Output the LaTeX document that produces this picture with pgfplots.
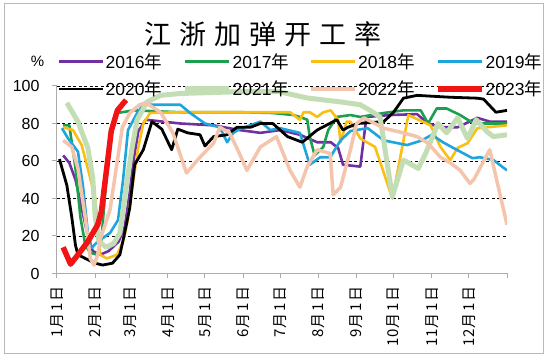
\documentclass[border=0pt]{standalone}
\usepackage{pgfplots}
\pgfplotsset{compat=1.18}
\usepackage{fontspec}
\setmainfont{Liberation Sans}
\newfontfamily\cjk{Noto Sans CJK SC}
\newcommand\nian{{\cjk 年}}
\newcommand\md[2]{#1\hspace{1.5pt}月\hspace{1.5pt}1\hspace{1.5pt}日}
\definecolor{c16}{RGB}{112,48,160}
\definecolor{c17}{RGB}{28,160,80}
\definecolor{c18}{RGB}{250,190,20}
\definecolor{c19}{RGB}{30,165,220}
\definecolor{c20}{RGB}{0,0,0}
\definecolor{c21}{RGB}{195,222,180}
\definecolor{c22}{RGB}{244,196,172}
\definecolor{c23}{RGB}{240,20,20}
\begin{document}
\begin{tikzpicture}[x=1pt,y=1pt]
\useasboundingbox (0,0) rectangle (550,358);
\draw[gray!55, line width=1pt] (4,4) rectangle (543,354);
\node at (263,324) {\cjk\fontsize{27}{30}\selectfont 江\hspace{8pt}浙\hspace{8pt}加\hspace{8pt}弹\hspace{8pt}开\hspace{8pt}工\hspace{8pt}率};
\node at (37.5,297) {\fontsize{15}{18}\selectfont\%};
\begin{axis}[
  at={(57pt,84.5pt)}, anchor=south west, scale only axis,
  width=450pt, height=187.5pt,
  xmin=0, xmax=365, ymin=0, ymax=100,
  axis x line*=bottom, axis y line*=left,
  axis line style={-, gray!65, line width=1pt},
  tick style={gray!65, line width=1pt},
  tick align=outside, major tick length=5pt,
  xtick={0,31,59,90,120,151,181,212,243,273,304,334,365},
  xticklabels={\md{1}{},\md{2}{},\md{3}{},\md{4}{},\md{5}{},\md{6}{},\md{7}{},\md{8}{},\md{9}{},\md{10}{},\md{11}{},\md{12}{},{}},
  xticklabel style={font=\cjk\fontsize{15}{15}\selectfont, rotate=90, anchor=east, inner sep=0pt},
  xticklabel shift=8pt,
  ytick={0,20,40,60,80,100},
  yticklabel style={font=\fontsize{16}{16}\selectfont},
  yticklabel shift=9pt,
  /pgf/number format/assume math mode=true,
  ymajorgrids,
  major grid style={black, dash pattern=on 3pt off 2.5pt, line width=0.8pt},
  every axis plot/.append style={no markers, line join=round},
  legend columns=4,
  legend image code/.code={\draw[mark repeat=2,mark phase=2,#1] plot coordinates {(0pt,0pt) (22pt,0pt) (44pt,0pt)};},
  legend style={at={(-0.005,1.19)}, anchor=north west, draw=none, fill=none,
    font=\fontsize{17.5}{20}\selectfont,
    nodes={inner sep=1pt},
    row sep=9pt, column sep=0pt, cells={anchor=west}},
]
\addplot[c16, line width=2.6pt] coordinates {(5,63)(10,59)(15,50)(20,35)(25,20)(29,12)(35,10)(42,12)(50,17)(55,25)(59,43)(62,60)(66,76)(72,82)(86,81)(100,80)(127,79)(148,76.5)(165,75)(181,76.5)(197,74)(211,70)(222,70)(228,67)(232,58)(246,57)(251,83.5)(270,84.5)(292,85)(301,80)(311,78)(325,78)(341,83)(351,81)(365,81)};
\addlegendentry{\makebox[76pt][l]{2016\nian}}
\addplot[c17, line width=2.6pt] coordinates {(5,79)(10,79)(15,56)(19,30)(23,15)(27,11)(33,10)(36,18)(40,50)(44.6,76.5)(49,85.6)(62,87)(100,86)(150,86)(175,85.6)(192,84.5)(199,83)(203,82)(205,73)(209,63)(216,67.5)(220,76.5)(227,83.5)(238,84.5)(246,83.5)(265,85.6)(281,87)(295,87)(301,80)(308,88)(316,88)(327,84.5)(338,80)(365,80)};
\addlegendentry{\makebox[76pt][l]{2017\nian}}
\addplot[c18, line width=2.6pt] coordinates {(5,78)(13,76.5)(20,68.5)(25,56)(31,40)(33,26)(35,10)(40.5,8)(48.7,10)(53.6,17)(57,27)(62,50)(66,67.5)(70,80)(75.5,85.6)(100,86)(146,86)(189,86)(197,82)(200,86)(205,86)(211,83.5)(216,86)(222,87)(228,82)(230,70)(235,81)(238,81)(246,72)(258,67.5)(272,40)(285,84.5)(303,79)(311,67.5)(319,60.5)(325,67)(333,69.5)(341,77.5)(365,79)};
\addlegendentry{\makebox[76pt][l]{2018\nian}}
\addplot[c19, line width=2.6pt] coordinates {(4,77.5)(9,72)(17,65)(21,47)(25,22)(28,13.6)(33,17)(43,21.6)(49.5,28.5)(53.6,50)(57.6,76.5)(65,85.6)(70,90)(100,90)(108,85.6)(120,80)(132,78)(138,70)(143,75)(148,77)(165,81)(173,76.5)(181,77.5)(197,75)(205,58)(213.5,62)(221.6,62)(230,71)(238,76)(252,77.5)(265,71)(284,68.5)(296,71)(304,74)(313,70)(327,65)(337,61.5)(343,62)(354,60.5)(365,55)};
\addlegendentry{\makebox[76pt][l]{2019\nian}}
\addplot[c20, line width=2.8pt] coordinates {(2,61)(8,47)(12,30)(15,15)(17,10)(23,8)(31,5.5)(37,4.5)(45,5.5)(51,10)(55,22)(59,35)(63,58)(70,66)(77,81)(85,77)(93,66)(98,77)(106,75)(116,74)(120,68)(127,73)(138,74)(146,78)(157,78)(165,80)(175,80)(187,73)(199,70)(211,76.5)(227,82)(232,76.5)(236,78)(244,80)(265,81)(273,86)(281,93.5)(292,95)(319,94)(341,93.5)(346,93)(356,86)(365,87)};
\addlegendentry{\makebox[76pt][l]{2020\nian}}
\addplot[c21, line width=5pt] coordinates {(8,91)(17,81)(25,67)(29,51)(31,30)(34,17)(40,14)(46,16)(51,21.6)(57,50)(61,67.5)(65,82)(73,91.5)(84,95)(100,96)(150,97)(180,97)(203,93.6)(230,91.5)(246,90)(254,87)(262,83.5)(272,41)(281,60.5)(293,56)(299,64)(309,80)(316,75)(325,83)(333,72)(340,82)(349,75.5)(354,73)(365,74)};
\addlegendentry{\makebox[76pt][l]{2021\nian}}
\addplot[c22, line width=3.5pt] coordinates {(5,71)(12,67.5)(17,56)(23,29.5)(27,8)(30,4.5)(33,10)(35,18)(43,34)(48.7,59)(53,78)(59,85.6)(67,90)(72,91)(84,86)(94,75)(105,53.6)(116,62)(127,69.5)(132,78)(140,75)(148,64)(154,55)(165,67.5)(178,73)(189,55)(197,46)(203,57)(211,66)(221.6,64)(224,42)(230,46)(238,66)(243,80)(249,83)(265,77.5)(281,75)(292,73)(301,69.5)(311,62)(319,59)(327,55)(335,48)(338,50)(351,66)(365,26)};
\addlegendentry{\makebox[76pt][l]{2022\nian}}
\addplot[c23, line width=5.5pt] coordinates {(5,14)(11,5)(17,10)(25,17)(33,26)(36,33)(40.5,57)(44,76)(49,87)(56,92.5)};
\addlegendentry{\makebox[76pt][l]{2023\nian}}
\end{axis}
\end{tikzpicture}
\end{document}
